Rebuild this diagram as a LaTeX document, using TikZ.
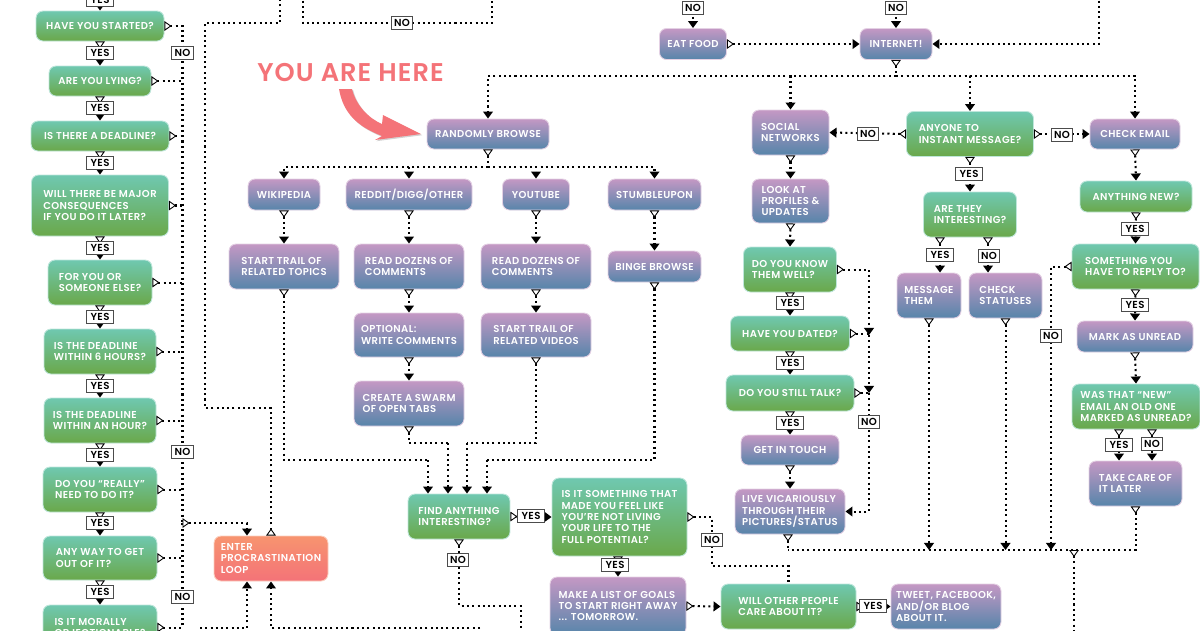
\documentclass[tikz,border=0pt]{standalone}
\usepackage{fontspec}
\setmainfont{Poppins}[LetterSpace=4,BoldFont={Poppins SemiBold}]
\usetikzlibrary{arrows.meta,shadows}

\definecolor{greentop}{HTML}{6FC8B0}
\definecolor{greenbot}{HTML}{6AA84A}
\definecolor{purpletop}{HTML}{C498C4}
\definecolor{purplebot}{HTML}{5785AA}
\definecolor{loopred}{HTML}{F47378}
\definecolor{looporange}{HTML}{F7946F}

\tikzset{
    boxbase/.style={rounded corners=4pt, inner sep=0pt, align=left, text=white,
        line width=0.5pt, font=\fontsize{5.7}{6.45}\selectfont\bfseries},
    sized/.style 2 args={minimum width=#1*0.02cm, minimum height=#2*0.02cm},
    greenbox/.style={boxbase, draw=greentop!45, top color=greentop, bottom color=greenbot},
    purplebox/.style={boxbase, draw=purpletop!45, top color=purpletop, bottom color=purplebot},
    redbox/.style={boxbase, draw=looporange!45, top color=looporange, bottom color=loopred},
    answer/.style={draw=black!70, fill=white, line width=0.6pt, inner sep=0pt, text=black,
        minimum height=7.4pt, font=\fontsize{5.8}{6}\selectfont\bfseries},
    yesbox/.style={answer, minimum width=15.5pt},
    nobox/.style={answer, minimum width=12pt},
    flowline/.style={line width=1.15pt, dash pattern=on 1.15pt off 1.85pt},
    headflow/.style={flowline, -{Triangle[length=4pt,width=5.5pt]}},
    tailflow/.style={flowline, {Triangle[reversed,open,fill=white,length=4pt,width=5.5pt,line width=0.5pt]}-},
    bothflow/.style={flowline, {Triangle[reversed,open,fill=white,length=4pt,width=5.5pt,line width=0.5pt]}-{Triangle[length=4pt,width=5.5pt]}}
}

\begin{document}
\begin{tikzpicture}[x=0.02cm, y=-0.02cm]
    \useasboundingbox (0,0) rectangle (1200,630);
    \clip (0,0) rectangle (1200,630);

    % Question column on the left
    \node[greenbox, sized={128}{30}] (started) at (100,26) {HAVE YOU STARTED?};
    \node[greenbox, sized={102}{30}] (lying) at (100,81) {ARE YOU LYING?};
    \node[greenbox, sized={138}{30}] (deadline) at (100,136) {IS THERE A DEADLINE?};
    \node[greenbox, sized={137}{61}] (major) at (100,205.5) {WILL THERE BE MAJOR\\CONSEQUENCES\\IF YOU DO IT LATER?};
    \node[greenbox, sized={104}{45}] (someone) at (100,282.5) {FOR YOU OR\\SOMEONE ELSE?};
    \node[greenbox, sized={112}{45}] (sixhours) at (100,351.5) {IS THE DEADLINE\\WITHIN 6 HOURS?};
    \node[greenbox, sized={112}{45}] (onehour) at (100,420.5) {IS THE DEADLINE\\WITHIN AN HOUR?};
    \node[greenbox, sized={114}{45}] (really) at (100,489.5) {DO YOU “REALLY”\\NEED TO DO IT?};
    \node[greenbox, sized={114}{44}] (getout) at (100,558) {ANY WAY TO GET\\OUT OF IT?};
    \node[greenbox, sized={114}{45}] (morally) at (100,627.5) {IS IT MORALLY\\OBJECTIONABLE?};

    % Other questions
    \node[greenbox, sized={102}{45}] (find) at (459,516.5) {FIND ANYTHING\\INTERESTING?};
    \node[greenbox, sized={135}{78}] (potential) at (619.5,517) {IS IT SOMETHING THAT\\MADE YOU FEEL LIKE\\YOU’RE NOT LIVING\\YOUR LIFE TO THE\\FULL POTENTIAL?};
    \node[greenbox, sized={135}{45}] (care) at (788.5,606.5) {WILL OTHER PEOPLE\\CARE ABOUT IT?};
    \node[greenbox, sized={93}{45}] (knowwell) at (790,269.5) {DO YOU KNOW\\THEM WELL?};
    \node[greenbox, sized={119}{35}] (dated) at (790,333.5) {HAVE YOU DATED?};
    \node[greenbox, sized={128}{36}] (talk) at (790,393) {DO YOU STILL TALK?};
    \node[greenbox, sized={127}{45}] (instant) at (970,134) {ANYONE TO\\INSTANT MESSAGE?};
    \node[greenbox, sized={93}{45}] (interesting) at (970,214.5) {ARE THEY\\INTERESTING?};
    \node[greenbox, sized={112}{31}] (anynew) at (1136,196.5) {ANYTHING NEW?};
    \node[greenbox, sized={127}{45}] (reply) at (1135.5,266.5) {SOMETHING YOU\\HAVE TO REPLY TO?};
    \node[greenbox, sized={128}{45}] (oldone) at (1136,406.5) {WAS THAT “NEW”\\EMAIL AN OLD ONE\\MARKED AS UNREAD?};

    % Activities
    \node[purplebox, sized={122}{30}] (randomly) at (488,134) {RANDOMLY BROWSE};
    \node[purplebox, sized={72}{31}] (wikipedia) at (284,194.5) {WIKIPEDIA};
    \node[purplebox, sized={126}{31}] (reddit) at (409,194.5) {REDDIT/DIGG/OTHER};
    \node[purplebox, sized={67}{31}] (youtube) at (536,194.5) {YOUTUBE};
    \node[purplebox, sized={93}{31}] (stumble) at (654.5,194.5) {STUMBLEUPON};
    \node[purplebox, sized={110}{45}] (topics) at (284,266.5) {START TRAIL OF\\RELATED TOPICS};
    \node[purplebox, sized={110}{45}] (dozensa) at (409,266.5) {READ DOZENS OF\\COMMENTS};
    \node[purplebox, sized={110}{45}] (dozensb) at (536,266.5) {READ DOZENS OF\\COMMENTS};
    \node[purplebox, sized={93}{31}] (binge) at (654.5,266.5) {BINGE BROWSE};
    \node[purplebox, sized={110}{44}] (optional) at (409,335) {OPTIONAL:\\WRITE COMMENTS};
    \node[purplebox, sized={110}{44}] (videos) at (536,335) {START TRAIL OF\\RELATED VIDEOS};
    \node[purplebox, sized={110}{45}] (swarm) at (409,403.5) {CREATE A SWARM\\OF OPEN TABS};
    \node[purplebox, sized={136}{58}] (goals) at (618,606) {MAKE A LIST OF GOALS\\TO START RIGHT AWAY\\... TOMORROW.};
    \node[purplebox, sized={110}{45}] (tweet) at (946,606.5) {TWEET, FACEBOOK,\\AND/OR BLOG\\ABOUT IT.};
    \node[purplebox, sized={67}{31}] (eatfood) at (693,44) {EAT FOOD};
    \node[purplebox, sized={72}{31}] (internet) at (896,44) {INTERNET!};
    \node[purplebox, sized={77}{45}] (social) at (790.5,132.5) {SOCIAL\\NETWORKS};
    \node[purplebox, sized={77}{44}] (profiles) at (790.5,201) {LOOK AT\\PROFILES \&\\UPDATES};
    \node[purplebox, sized={98}{30}] (touch) at (790,450) {GET IN TOUCH};
    \node[purplebox, sized={110}{45}] (vicarious) at (790,511.5) {LIVE VICARIOUSLY\\THROUGH THEIR\\PICTURES/STATUS};
    \node[purplebox, sized={64}{45}] (message) at (929,295.5) {MESSAGE\\THEM};
    \node[purplebox, sized={73}{45}] (statuses) at (1005.5,295.5) {CHECK\\STATUSES};
    \node[purplebox, sized={90}{30}] (email) at (1135,134) {CHECK EMAIL};
    \node[purplebox, sized={116}{31}] (unread) at (1135,336.5) {MARK AS UNREAD};
    \node[purplebox, sized={93}{45}] (later) at (1135.5,483.5) {TAKE CARE OF\\IT LATER};

    % Procrastination loop
    \node[redbox, sized={114}{45}] (enter) at (271,558.5) {ENTER\\PROCRASTINATION\\LOOP};

    % You are here
    \node[text=loopred, font=\fontsize{14.6}{15}\selectfont\bfseries] (here) at (350.5,73) {YOU ARE HERE};
    \fill[loopred, drop shadow={shadow xshift=0.7pt, shadow yshift=-0.7pt, opacity=0.35}]
        (339,89) .. controls (343,112) and (356,126) .. (382,136) -- (375,140) -- (421,134)
        -- (383,115) -- (382,124) .. controls (368,118) and (356,105) .. (352,89) -- cycle;

    % Free ends and corners
    \coordinate (topstart) at (100,-20);
    \coordinate (trunkend) at (182.5,523);
    \coordinate (loopa) at (205,408);
    \coordinate (loopb) at (280,23);
    \coordinate (looptop) at (280,-10);
    \coordinate (exita) at (303,-10);
    \coordinate (exitmid) at (303,23);
    \coordinate (exitb) at (492,-10);
    \coordinate (topeat) at (693,-20);
    \coordinate (topnet) at (896,-20);
    \coordinate (topfeed) at (1098.5,-10);
    \coordinate (netbus) at (896,76);
    \coordinate (browsebus) at (488,167);
    \coordinate (intoa) at (428,460);
    \coordinate (intob) at (448,443);
    \coordinate (intoc) at (467,443);
    \coordinate (intod) at (487,460);
    \coordinate (findturn) at (521,606);
    \coordinate (findout) at (521,640);
    \coordinate (backa) at (200,628);
    \coordinate (backturn) at (247,628);
    \coordinate (backb) at (480,628);
    \coordinate (potturn) at (712,566);
    \coordinate (jumpa) at (869,335);
    \coordinate (jumpb) at (869,393);
    \coordinate (busend) at (788,550);
    \coordinate (replyleg) at (1051,550);
    \coordinate (busout) at (1074,550);
    \coordinate (busdown) at (1074,640);
    \coordinate (dropyes) at (940,0);
    \coordinate (dropno) at (988,0);
    \coordinate (oldyes) at (1119,0);
    \coordinate (oldno) at (1152,0);

    % Left column connectors
    \draw[headflow] (topstart) -- (started.north);
    \foreach \a/\b in {started/lying, lying/deadline, deadline/major, major/someone, someone/sixhours,
        sixhours/onehour, onehour/really, really/getout, getout/morally}
        \draw[bothflow] (\a.south) -- (\b.north);
    \draw[tailflow] (started.east) -| (trunkend);
    \foreach \a in {lying, deadline, major, someone, sixhours, onehour, really, getout}
        \draw[tailflow] (\a.east) -- (\a.east -| trunkend);
    \draw[tailflow] (morally.east) -| (trunkend);
    \draw[bothflow] (trunkend) -| (enter.north -| backturn);

    % Loop lines
    \draw[tailflow] (enter.north) |- (loopa) |- (loopb) -- (looptop);
    \draw[flowline] (exita) |- (exitmid) -| (exitb);
    \draw[headflow] (backa) -- (backturn) -- (backturn |- enter.south);
    \draw[headflow] (backb) -| (enter.south);

    % Browsing
    \draw[tailflow] (randomly.south) -- (browsebus);
    \foreach \a in {wikipedia, reddit, youtube, stumble}
        \draw[headflow] (browsebus) -| (\a.north);
    \foreach \a/\b in {wikipedia/topics, reddit/dozensa, youtube/dozensb, stumble/binge, dozensa/optional,
        optional/swarm, dozensb/videos}
        \draw[bothflow] (\a.south) -- (\b.north);

    % Into find anything
    \draw[tailflow] (topics.south) |- (intoa);
    \draw[headflow] (intoa) -- (intoa |- find.north);
    \draw[tailflow] (swarm.south) |- (intob);
    \draw[headflow] (intob) -- (intob |- find.north);
    \draw[tailflow] (videos.south) |- (intoc);
    \draw[headflow] (intoc) -- (intoc |- find.north);
    \draw[tailflow] (binge.south) |- (intod);
    \draw[headflow] (intod) -- (intod |- find.north);
    \draw[tailflow] (find.south) |- (findturn) -- (findout);
    \draw[bothflow] (find.east) -- (potential.west);
    \draw[bothflow] (potential.south -| goals.north) -- (goals.north);
    \draw[tailflow] (potential.east) -| (potturn) -| (care.north);
    \draw[bothflow] (goals.east) -- (care.west);
    \draw[bothflow] (care.east) -- (tweet.west);

    % Internet
    \draw[headflow] (topeat) -- (eatfood.north);
    \draw[headflow] (topnet) -- (internet.north);
    \draw[headflow] (topfeed) |- (internet.east);
    \draw[bothflow] (eatfood.east) -- (internet.west);
    \draw[tailflow] (internet.south) -- (netbus);
    \foreach \a in {randomly, social, instant, email}
        \draw[headflow] (netbus) -| (\a.north);

    % Social networks
    \foreach \a/\b in {social/profiles, profiles/knowwell, knowwell/dated, dated/talk, talk/touch, touch/vicarious}
        \draw[bothflow] (\a.south) -- (\b.north);
    \draw[bothflow] (knowwell.east) -| (jumpa);
    \draw[tailflow] (dated.east) -- (dated.east -| jumpa);
    \draw[headflow] (jumpa) -- (jumpb);
    \draw[tailflow] (talk.east) -- (talk.east -| jumpb);
    \draw[headflow] (jumpb) |- (vicarious.east);

    % Instant messages
    \draw[bothflow] (instant.west) -- (social.east);
    \draw[bothflow] (instant.east) -- (email.west);
    \draw[bothflow] (instant.south) -- (interesting.north);
    \draw[bothflow] (interesting.south -| dropyes) -- (message.north -| dropyes);
    \draw[bothflow] (interesting.south -| dropno) -- (statuses.north -| dropno);

    % Email
    \foreach \a/\b in {email/anynew, anynew/reply, reply/unread, unread/oldone}
        \draw[bothflow] (\a.south) -- (\b.north);
    \draw[bothflow] (oldone.south -| oldyes) -- (later.north -| oldyes);
    \draw[bothflow] (oldone.south -| oldno) -- (later.north -| oldno);
    \draw[bothflow] (reply.west) -| (replyleg);

    % Bottom bus
    \draw[tailflow] (later.south) |- (busend);
    \draw[tailflow] (vicarious.south -| busend) -- (busend);
    \draw[bothflow] (message.south) -- (message.south |- busend);
    \draw[bothflow] (statuses.south) -- (statuses.south |- busend);
    \draw[tailflow] (busout) -- (busdown);

    % Answer labels
    \foreach \lab/\x/\y in {yesa/100/0, yesb/100/53, yesc/100/108, yesd/100/163, yese/100/248, yesf/100/317,
        yesg/100/386, yesh/100/455, yesi/100/523, yesj/100/592, yesk/531/516, yesl/615/565, yesm/873/606,
        yesn/790/303, yeso/790/363, yesp/790/423, yesq/969/174, yesr/940/255, yess/1135/229,
        yest/1135/305, yesu/1119/445}
        \node[yesbox] (\lab) at (\x,\y) {YES};
    \foreach \lab/\x/\y in {noa/182.5/53, nob/182.5/452, noc/182.5/597, nod/402/23, noe/693/8, nof/896/8,
        nog/458/560, noh/712/540, noi/868/134, noj/1062/135, nok/869/422, nol/989/256,
        nom/1051/336, non/1152/444}
        \node[nobox] (\lab) at (\x,\y) {NO};
\end{tikzpicture}
\end{document}
